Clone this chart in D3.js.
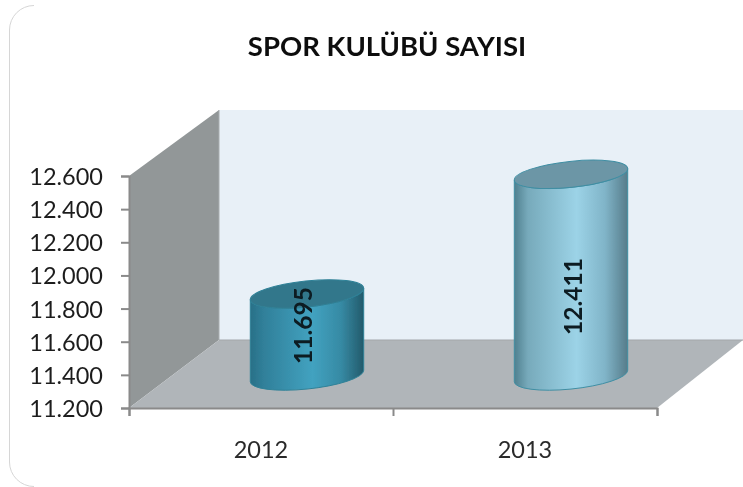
<!DOCTYPE html>
<html><head><meta charset="utf-8">
<script src="https://cdnjs.cloudflare.com/ajax/libs/d3/7.8.5/d3.min.js"></script>
<style>html,body{margin:0;padding:0;background:#fff}svg{display:block}
text{font-family:Lato,"Open Sans",sans-serif}</style></head><body>
<svg id="c" width="743" height="487"></svg>
<script>
const title = "SPOR KULÜBÜ SAYISI";
const categories = ["2012", "2013"];
const values = [11695, 12411];
const tickValues = [11200, 11400, 11600, 11800, 12000, 12200, 12400, 12600];
const labels = ["11.695", "12.411"];

const W = 743, H = 487;
const svg = d3.select("#c");
const x0 = 129, x1 = 657, yB = 408, yT = 176, dx = 90, dy = 68;
const x = d3.scaleBand().domain(categories).range([x0, x1]);
const y = d3.scaleLinear().domain([11200, 12600]).range([yB, yT]);
const fmt = d => d3.format(",")(d).replace(",", ".");

const defs = svg.append("defs");
function grad(id, stops){
  const g = defs.append("linearGradient").attr("id", id).attr("x1",0).attr("x2",1).attr("y1",0).attr("y2",0);
  stops.forEach(s => g.append("stop").attr("offset", s[0]).attr("stop-color", s[1]));
}
const styles = [
  {side:"g0", top:"#32778b", stroke:"#2f8197", edge:"#2f8197", lx:5, ly:325.5},
  {side:"g1", top:"#6c96a6", stroke:"#3f8ea3", edge:"#3f8ea3", lx:11, ly:296.5}
];
grad("g0", [[0,"#2a7087"],[0.12,"#30809a"],[0.55,"#42a2c0"],[0.8,"#368aa4"],[1,"#235a6b"]]);
grad("g1", [[0,"#50808f"],[0.12,"#77aabb"],[0.55,"#9cd3e7"],[0.8,"#80b4c8"],[1,"#567c8a"]]);
const bl = defs.append("filter").attr("id","soft").attr("x","-5%").attr("y","-5%").attr("width","110%").attr("height","110%");
bl.append("feGaussianBlur").attr("stdDeviation",0.35);

// card edge: visible on the left and at the rounded corners
svg.append("path").attr("d",`M34,5.5 A24.5,24.5 0 0 0 9.5,30 V462 A24.5,24.5 0 0 0 34,486.5`)
  .attr("fill","none").attr("stroke","#d6d6d6").attr("stroke-width",1);

const root = svg.append("g").attr("filter","url(#soft)");

// walls
const pts = a => a.map(p => p.join(",")).join(" ");
root.append("polygon").attr("points", pts([[x0+dx,yT-66],[W,yT-66],[W,yB-dy],[x0+dx,yB-dy]])).attr("fill","#e8f0f7");
root.append("polygon").attr("points", pts([[x0,yT],[x0+dx,yT-66],[x0+dx,yB-dy],[x0,yB]])).attr("fill","#929798");
root.append("polygon").attr("points", pts([[x0,yB],[x0+dx,yB-dy],[W,yB-dy],[x1,yB]])).attr("fill","#b0b5b9");
root.append("line").attr("x1",x0+dx).attr("x2",W).attr("y1",yB-dy).attr("y2",yB-dy).attr("stroke","#a3a7aa").attr("stroke-width",1);
root.append("line").attr("x1",x0+dx).attr("x2",x0+dx).attr("y1",yT-66).attr("y2",yB-dy).attr("stroke","#a9adb0").attr("stroke-width",1);

// axes
const axisColor = "#8a8a8a";
const ay = root.append("g").attr("transform",`translate(${x0},0)`)
  .call(d3.axisLeft(y).tickValues(tickValues).tickFormat(fmt).tickSize(8).tickPadding(18));
const ax = root.append("g").attr("transform",`translate(0,${yB})`)
  .call(d3.axisBottom(x).tickSize(0).tickPadding(33));
const edge = d3.scaleLinear().domain([0,categories.length]).range([x0,x1]);
root.append("g").attr("transform",`translate(0,${yB})`)
  .call(d3.axisBottom(edge).tickValues(d3.range(categories.length+1)).tickSize(8).tickFormat(""));
root.selectAll(".domain").attr("stroke",axisColor).attr("stroke-width",2);
root.selectAll(".tick line").attr("stroke",axisColor).attr("stroke-width",2);
ay.selectAll("text").attr("font-size",23.5).attr("fill","#1f1f1f").attr("transform","translate(0,1)");
ax.selectAll("text").attr("font-size",23.5).attr("fill","#2a2a2a");
ax.select(".domain").remove();

// cylinders
const a = 57, b = 13, t = -6 * Math.PI/180;
const ext = Math.sqrt(a*a*Math.cos(t)**2 + b*b*Math.sin(t)**2);
const tan = (a*a-b*b)*Math.sin(t)*Math.cos(t)/ext;
const ox = dx/2 + 1, oy = dy/2 - 2;
categories.forEach((c,i) => {
  const cx = x(c) + x.bandwidth()/2 + ox;
  const cyT = y(values[i]) - oy - (i === 1 ? 1 : 0);
  const cyB = y(11200) - oy;
  const s = styles[i], deg = t*180/Math.PI;
  const side = `M${cx-ext},${cyT-tan} L${cx-ext},${cyB-tan} A${a},${b} ${deg} 0 0 ${cx+ext},${cyB+tan} L${cx+ext},${cyT+tan} A${a},${b} ${deg} 0 1 ${cx-ext},${cyT-tan} Z`;
  root.append("path").attr("d",side).attr("fill",`url(#${s.side})`).attr("stroke",s.stroke).attr("stroke-width",1);
  root.append("ellipse").attr("cx",cx).attr("cy",cyT).attr("rx",a).attr("ry",b)
    .attr("transform",`rotate(${deg} ${cx} ${cyT})`).attr("fill",s.top).attr("stroke",s.edge).attr("stroke-width",1);
  root.append("text").attr("transform",`translate(${cx+s.lx},${s.ly}) rotate(-90)`)
    .attr("text-anchor","middle").attr("font-size",24.5).attr("font-weight",700).attr("fill","#0c1a20").text(labels[i]);
});

root.append("text").attr("x",387).attr("y",56).attr("text-anchor","middle")
  .attr("font-size",27.5).attr("font-weight",700).attr("fill","#111").text(title);
</script></body></html>
